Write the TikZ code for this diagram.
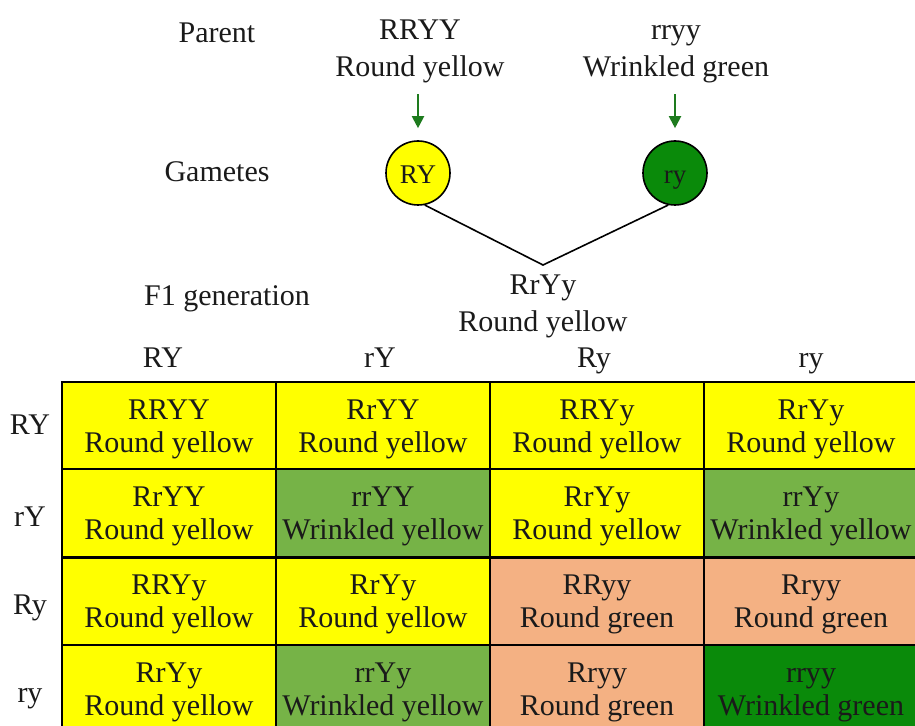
\documentclass[tikz,border=0pt]{standalone}
\usepackage{fontspec}
\setmainfont{Liberation Serif}
\usetikzlibrary{arrows.meta}
\definecolor{pyellow}{HTML}{FFFF00}
\definecolor{plgreen}{HTML}{76B347}
\definecolor{ppeach}{HTML}{F4B183}
\definecolor{pdgreen}{HTML}{0A8A0A}
\definecolor{parrow}{HTML}{1E7B1E}
\definecolor{ptext}{HTML}{1A1A1A}
\def\ftwo#1#2{\begin{tabular}{@{}c@{}}#1\\#2\end{tabular}}

\begin{document}
\begin{tikzpicture}[x=0.5pt, y=-0.5pt,
	every node/.style={text=ptext, font=\fontsize{15pt}{18.5pt}\selectfont},
	textlbl/.style={align=center},
	gamname/.style={text height=1.5ex, text depth=.25ex},
	gamete/.style={circle, draw=black, line width=0.8pt, minimum size=32pt, inner sep=0pt, text height=12.4pt, text depth=1.6pt, font=\fontsize{13.5pt}{16pt}\selectfont},
	cell/.style={draw=black, line width=1pt, minimum width=107pt, minimum height=43.5pt, inner sep=0pt, text height=20pt, text depth=9.2pt, font=\fontsize{15pt}{16.5pt}\selectfont},
	gametearrow/.style={parrow, line width=1pt, -{Triangle[length=6pt,width=6pt]}, shorten <=2pt, shorten >=6pt}]
			%%%%% START %%%%%
			\useasboundingbox (0, 0) rectangle (915, 726);
			\clip (0, 0) rectangle (915, 726);
			
			\node[textlbl] (parent) at (217, 33) {Parent};
			\node[textlbl] (gametes) at (217, 172) {Gametes};
			\node[textlbl] (fone) at (227, 299) {F1 generation};
			
			\node[textlbl] (p1) at (420, 51.5) {RRYY\\Round yellow};
			\node[textlbl] (p2) at (676, 51.5) {\vphantom{R}rryy\\Wrinkled green};
			
			\node[gamete, fill=pyellow] (g1) at (418, 173) {RY};
			\node[gamete, fill=pdgreen] (g2) at (675, 173) {ry};
			
			\draw[gametearrow] (p1.south -| g1) -- (g1.north);
			\draw[gametearrow] (p2.south -| g2) -- (g2.north);
			
			\coordinate (join) at (543, 265);
			\draw[line width=0.8pt] (g1.-78) -- (join) -- (g2.-102);
			\node[textlbl] (f1) at (543, 306.5) {RrYy\\Round yellow};
			
			% gametes of the F1 plants
			\node[gamname] (h1) at (163, 362) {RY};
			\node[gamname] (h2) at (380, 362) {rY};
			\node[gamname] (h3) at (594, 362) {Ry};
			\node[gamname] (h4) at (811, 362) {ry};
			
			\node[gamname] (r1) at (30, 429) {RY};
			\node[gamname] (r2) at (30, 521) {rY};
			\node[gamname] (r3) at (30, 609) {Ry};
			\node[gamname] (r4) at (30, 697) {ry};
			
			% F2 grid
			\node[cell, fill=pyellow] (c11) at (169, 426) {\ftwo{RRYY}{Round yellow}};
			\node[cell, fill=pyellow] (c12) at (383, 426) {\ftwo{RrYY}{Round yellow}};
			\node[cell, fill=pyellow] (c13) at (597, 426) {\ftwo{RRYy}{Round yellow}};
			\node[cell, fill=pyellow] (c14) at (811, 426) {\ftwo{RrYy}{Round yellow}};
			
			\node[cell, fill=pyellow] (c21) at (169, 513) {\ftwo{RrYY}{Round yellow}};
			\node[cell, fill=plgreen] (c22) at (383, 513) {\ftwo{rrYY}{Wrinkled yellow}};
			\node[cell, fill=pyellow] (c23) at (597, 513) {\ftwo{RrYy}{Round yellow}};
			\node[cell, fill=plgreen] (c24) at (811, 513) {\ftwo{rrYy}{Wrinkled yellow}};
			
			\node[cell, fill=pyellow] (c31) at (169, 601) {\ftwo{RRYy}{Round yellow}};
			\node[cell, fill=pyellow] (c32) at (383, 601) {\ftwo{RrYy}{Round yellow}};
			\node[cell, fill=ppeach] (c33) at (597, 601) {\ftwo{RRyy}{Round green}};
			\node[cell, fill=ppeach] (c34) at (811, 601) {\ftwo{Rryy}{Round green}};
			
			\node[cell, fill=pyellow] (c41) at (169, 688.5) {\ftwo{RrYy}{Round yellow}};
			\node[cell, fill=plgreen] (c42) at (383, 688.5) {\ftwo{rrYy}{Wrinkled yellow}};
			\node[cell, fill=ppeach] (c43) at (597, 688.5) {\ftwo{Rryy}{Round green}};
			\node[cell, fill=pdgreen] (c44) at (811, 688.5) {\ftwo{rryy}{Wrinkled green}};
			%%%%% END %%%%%
\end{tikzpicture}
\end{document}
